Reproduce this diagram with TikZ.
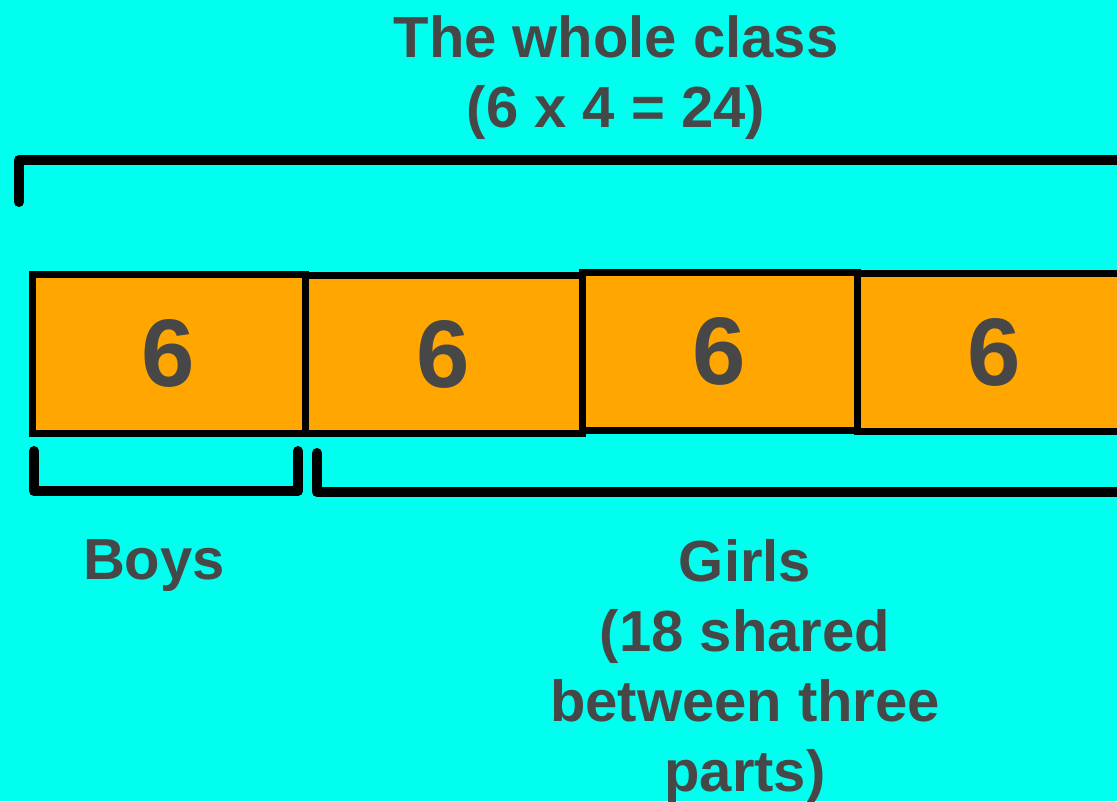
\documentclass[tikz,border=0pt]{standalone}
\usepackage{fontspec}
\setmainfont{Liberation Sans}
\definecolor{bgcyan}{RGB}{0,255,238}
\definecolor{barorange}{RGB}{255,166,0}
\definecolor{txtgray}{RGB}{71,71,71}

\begin{document}
\begin{tikzpicture}[x=1pt, y=-1pt,
  partbox/.style={rectangle, draw=black, line width=7pt, fill=barorange, inner sep=0pt,
                  text=txtgray, font=\fontsize{96}{110}\selectfont\bfseries},
  words/.style={text=txtgray, align=center, inner sep=0pt, font=\fontsize{58}{70}\selectfont\bfseries},
  bracketline/.style={line width=10pt, line cap=round, line join=round}]
  % Background
  \fill[bgcyan] (0,0) rectangle (1117,801);
  \useasboundingbox (0,0) rectangle (1117,801);
  % Title
  \node[words] (title) at (616,77) {The whole class\\(6 x 4 = 24)};
  % Bracket over the whole class
  \coordinate (whole-l) at (19,202);
  \coordinate (whole-r) at (1135,160);
  \draw[bracketline] (whole-l) |- (whole-r);
  % The four equal parts
  \node[partbox, minimum width=273pt, minimum height=159pt] (p1) at (168.5,353.5) {6};
  \node[partbox, minimum width=277pt, minimum height=158pt] (p2) at (443.5,354) {6};
  \node[partbox, minimum width=275pt, minimum height=158pt] (p3) at (719.5,351) {6};
  \node[partbox, minimum width=275pt, minimum height=158pt] (p4) at (994.5,352.5) {6};
  % Brackets under the parts
  \coordinate (boys-l) at (34,451);
  \coordinate (boys-r) at (298,451);
  \draw[bracketline] (boys-l) -- ++(0,40) -| (boys-r);
  \coordinate (girls-l) at (317,453);
  \coordinate (girls-r) at (1135,492);
  \draw[bracketline] (girls-l) |- (girls-r);
  % Labels
  \node[words] (boys) at (154,566) {Boys};
  \node[words] (girls) at (745,671) {Girls\\(18 shared\\between three\\parts)};
\end{tikzpicture}
\end{document}
